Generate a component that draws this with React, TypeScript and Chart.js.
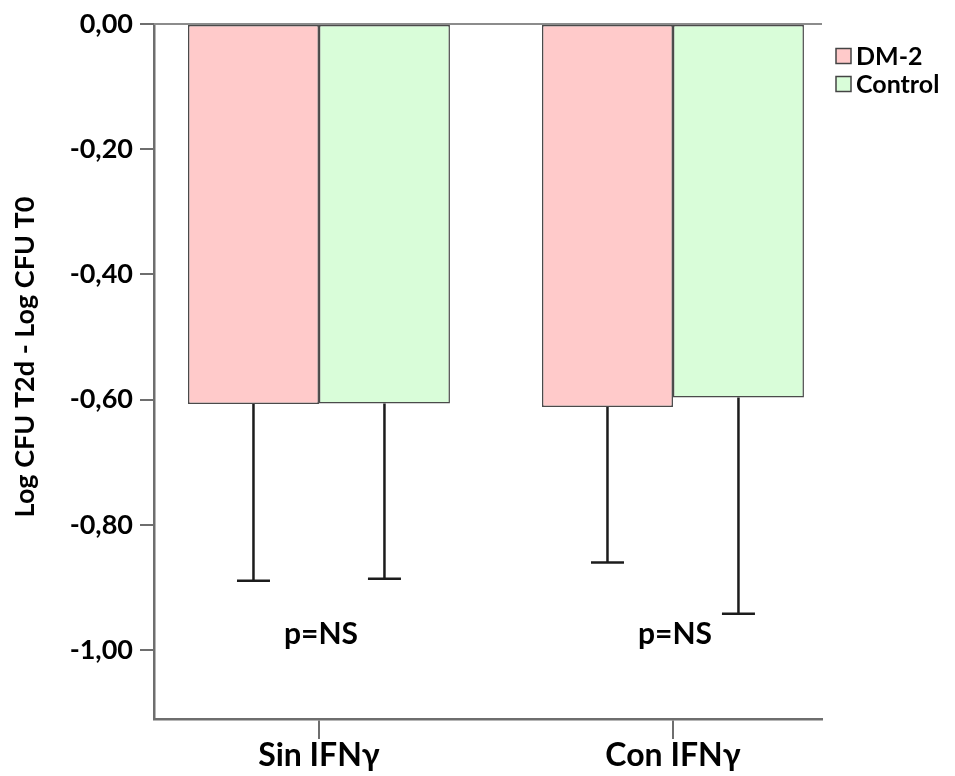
import { useEffect, useRef } from "react";
import { Chart, registerables } from "chart.js";

Chart.register(...registerables);

// ---- data ----
const categories = ["Sin IFNγ", "Con IFNγ"];
const seriesNames = ["DM-2", "Control"];
const dm2Values = [-0.607, -0.6115];
const controlValues = [-0.606, -0.5965];
// lower end of each (one-sided) error bar
const dm2ErrorLow = [-0.889, -0.86];
const controlErrorLow = [-0.886, -0.942];
const yTickValues = [0, -0.2, -0.4, -0.6, -0.8, -1.0];
const pValueLabels = ["p=NS", "p=NS"];
const pValueLevel = -0.975;
const yMin = -1.11;
const yMax = 0;
const yTitle = "Log CFU T2d - Log CFU T0";

const seriesColors = ["#ffcaca", "#d9fdd9"];
const FONT = "Lato, 'Open Sans', sans-serif";

export default function App() {
  const canvasRef = useRef<HTMLCanvasElement | null>(null);

  useEffect(() => {
    const canvas = canvasRef.current;
    if (!canvas) return;

    const errorLows = [dm2ErrorLow, controlErrorLow];

    const extras = {
      id: "extras",
      beforeDatasetsDraw(chart: any) {
        const { ctx, chartArea, scales } = chart;
        const py = scales.y.getPixelForValue(0);
        ctx.save();
        ctx.strokeStyle = "#8c8c8c";
        ctx.lineWidth = 2;
        ctx.beginPath();
        ctx.moveTo(chartArea.left, py);
        ctx.lineTo(chartArea.right, py);
        ctx.stroke();
        ctx.restore();
      },
      afterDatasetsDraw(chart: any) {
        const { ctx, scales } = chart;
        ctx.save();
        ctx.strokeStyle = "#1c1c1c";
        ctx.lineWidth = 2.5;
        chart.data.datasets.forEach((ds: any, di: number) => {
          const meta = chart.getDatasetMeta(di);
          meta.data.forEach((bar: any, i: number) => {
            const x = bar.x;
            const y0 = bar.y;
            const y1 = scales.y.getPixelForValue(errorLows[di][i]);
            ctx.beginPath();
            ctx.moveTo(x, y0);
            ctx.lineTo(x, y1);
            ctx.moveTo(x - 16.5, y1);
            ctx.lineTo(x + 16.5, y1);
            ctx.stroke();
          });
        });
        ctx.restore();
      },
      afterDraw(chart: any) {
        const { ctx, scales } = chart;
        ctx.save();
        // p-value annotations
        ctx.fillStyle = "#000";
        ctx.font = `bold 30px ${FONT}`;
        ctx.textAlign = "center";
        ctx.textBaseline = "middle";
        pValueLabels.forEach((t, i) => {
          ctx.fillText(t, scales.x.getPixelForValue(i) + 2, scales.y.getPixelForValue(pValueLevel));
        });
        // legend
        ctx.font = `bold 25px ${FONT}`;
        ctx.textAlign = "left";
        seriesNames.forEach((name, i) => {
          const cy = 56 + i * 28;
          ctx.fillStyle = seriesColors[i];
          ctx.fillRect(836, cy - 7.5, 15, 15);
          ctx.strokeStyle = "#444";
          ctx.lineWidth = 1.5;
          ctx.strokeRect(836, cy - 7.5, 15, 15);
          ctx.fillStyle = "#000";
          ctx.fillText(name, 856, cy + 1);
        });
        // y axis title
        ctx.translate(25, 357);
        ctx.rotate(-Math.PI / 2);
        ctx.font = `bold 27px ${FONT}`;
        ctx.textAlign = "center";
        ctx.fillText(yTitle, 0, 0);
        ctx.restore();
      },
    };

    const chart = new Chart(canvas, {
      type: "bar",
      data: {
        datasets: [
          {
            label: seriesNames[0],
            data: categories.map((_, i) => ({ x: i, y: dm2Values[i] })),
            backgroundColor: seriesColors[0],
            borderColor: "#4a4a4a",
            borderWidth: 1.5,
            borderSkipped: false,
          },
          {
            label: seriesNames[1],
            data: categories.map((_, i) => ({ x: i, y: controlValues[i] })),
            backgroundColor: seriesColors[1],
            borderColor: "#4a4a4a",
            borderWidth: 1.5,
            borderSkipped: false,
          },
        ],
      },
      options: {
        responsive: false,
        animation: false,
        layout: { padding: { top: 24, right: 133, bottom: 0, left: 0 } },
        categoryPercentage: 0.74,
        barPercentage: 1,
        plugins: { legend: { display: false }, tooltip: { enabled: false } },
        scales: {
          x: {
            type: "linear",
            offset: false,
            min: -0.466,
            max: 1.421,
            afterFit: (s: any) => {
              s.height = 57;
            },
            afterBuildTicks: (s: any) => {
              s.ticks = categories.map((_, i) => ({ value: i }));
            },
            ticks: {
              callback: (v: any) => categories[v] ?? "",
              color: "#000",
              font: { family: FONT, size: 32, weight: "bold", lineHeight: 1 },
              padding: 1,
              maxRotation: 0,
              autoSkip: false,
            },
            grid: {
              display: true,
              offset: false,
              drawOnChartArea: false,
              drawTicks: true,
              tickLength: 20,
              tickColor: "#6e6e6e",
              tickWidth: 2,
              lineWidth: 2,
              color: "#6e6e6e",
            },
            border: { display: true, color: "#6e6e6e", width: 2.5 },
          },
          y: {
            type: "linear",
            min: yMin,
            max: yMax,
            afterFit: (s: any) => {
              s.width = 154;
            },
            afterBuildTicks: (s: any) => {
              s.ticks = yTickValues.map((v) => ({ value: v }));
            },
            ticks: {
              callback: (v: any) => Number(v).toFixed(2).replace(".", ",").replace("-0,00", "0,00"),
              color: "#000",
              font: { family: FONT, size: 27, weight: "bold" },
              padding: 7,
              autoSkip: false,
            },
            grid: {
              display: true,
              drawOnChartArea: false,
              drawTicks: true,
              tickLength: 14,
              tickColor: "#6e6e6e",
              tickWidth: 2,
              lineWidth: 2,
              color: "#6e6e6e",
            },
            border: { display: true, color: "#6e6e6e", width: 2.5 },
          },
        },
      } as any,
      plugins: [extras],
    });

    return () => chart.destroy();
  }, []);

  return (
    <div style={{ position: "absolute", left: 0, top: 0, width: 955, height: 776, background: "#fff" }}>
      <canvas ref={canvasRef} width={955} height={776} style={{ display: "block" }} />
    </div>
  );
}
